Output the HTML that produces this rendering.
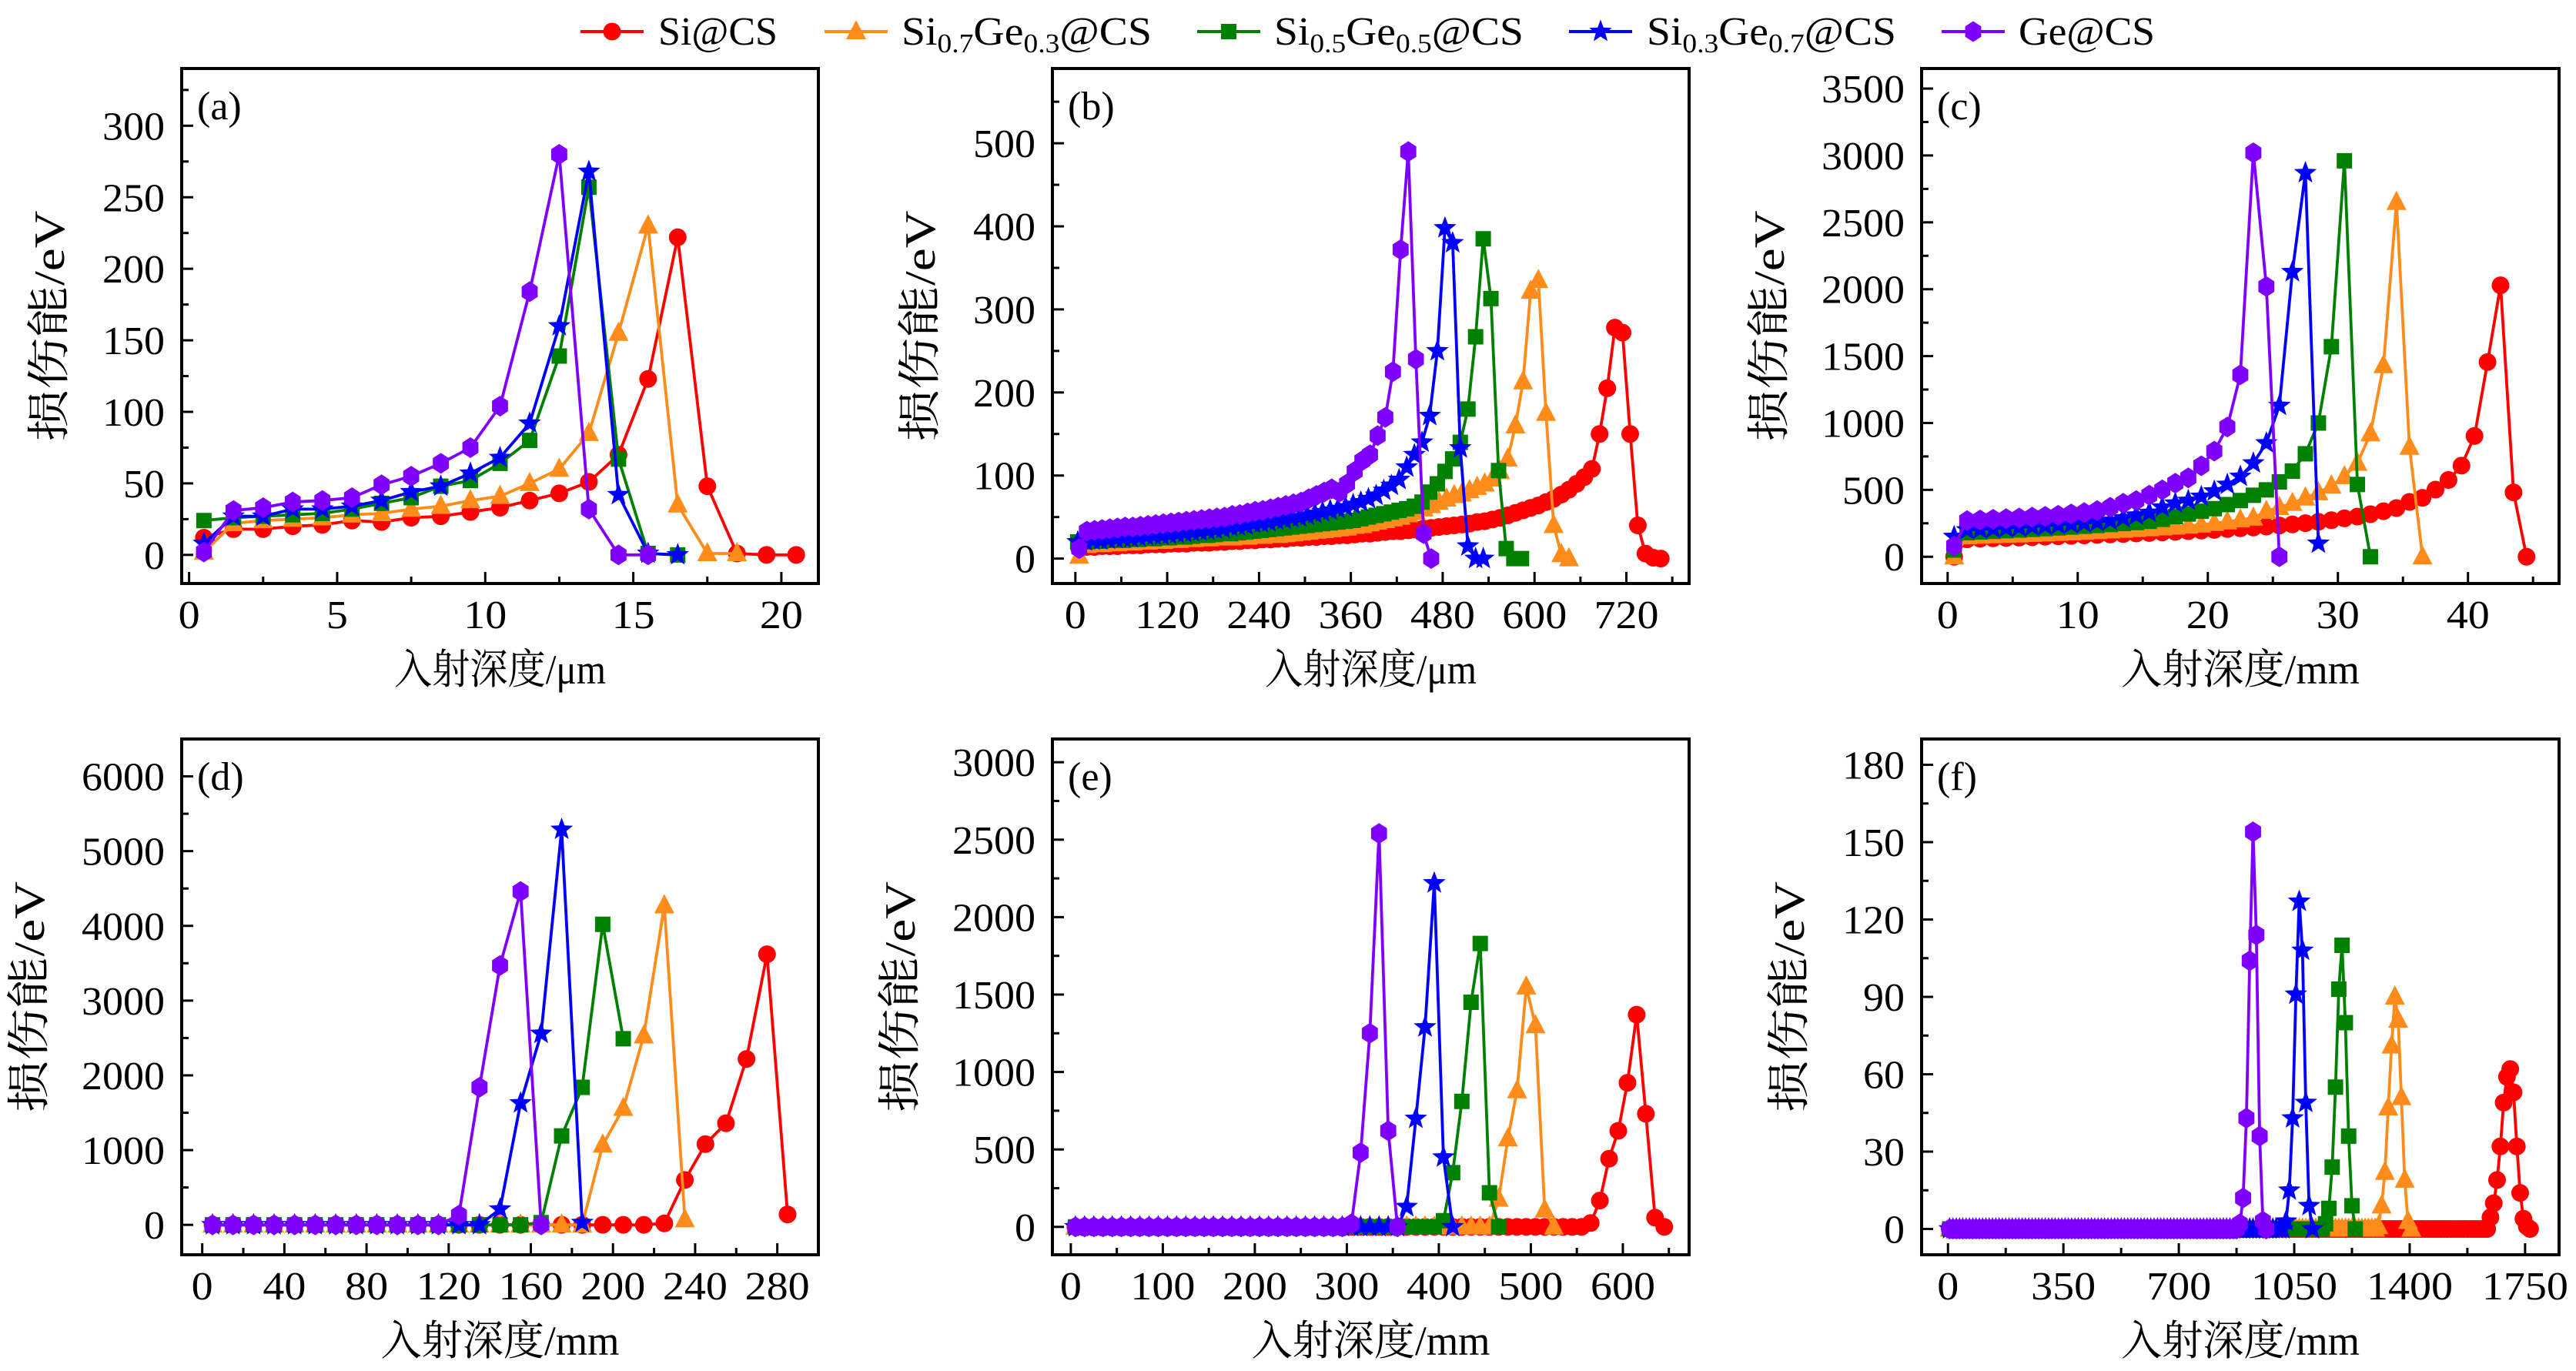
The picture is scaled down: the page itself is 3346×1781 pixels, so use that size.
<!DOCTYPE html>
<html><head><meta charset="utf-8"><style>
html,body{margin:0;padding:0;background:#fff;}
svg{display:block;}
text{font-family:"Liberation Serif","Noto Serif CJK SC",serif;fill:#000;}
</style></head><body>
<svg id="chart" xmlns="http://www.w3.org/2000/svg" width="3346" height="1781" viewBox="0 0 3346 1781">
<g id="legend"></g>
<g id="panels"></g>
</svg>
<script>
// ---------- DATA ----------
const seriesNames = ["Si@CS","Si0.7Ge0.3@CS","Si0.5Ge0.5@CS","Si0.3Ge0.7@CS","Ge@CS"];
// panel (a): x = 0.5 + i
const aSi   = [12,18,18,20,21,24,23,26,27,30,33,38,43,51,70,123,222,48,1,0,0];
const aSi07 = [2,22,24,25,26,28,29,32,34,38,41,50,60,85,155,230,35,1,1];
const aSi05 = [24,26,27,28,29,32,36,40,48,52,64,80,139,257,67,1,0];
const aSi03 = [8,27,27,32,32,34,38,44,48,57,68,92,160,268,42,1,0];
const aGe   = [2,31,33,37,38,40,49,55,64,75,104,184,280,32,0,0];
// panel (b)
const bSi   = [13,14,14,15,15,15,16,16,16,17,17,17,18,18,18,19,19,19,20,20,21,21,22,22,23,23,24,24,25,25,26,26,27,27,28,28,29,30,30,31,32,33,33,34,35,36,37,38,39,40,41,42,44,45,47,49,52,55,58,61,64,68,72,77,83,90,98,108,150,205,278,272,150,40,6,1,0];
const bSi07 = [3,16,17,17,18,18,19,19,20,20,21,21,22,22,23,23,24,24,25,25,25,26,26,27,27,28,28,29,30,31,32,33,34,35,36,37,39,40,42,44,46,48,50,53,56,60,64,68,72,76,78,82,86,90,96,105,120,160,213,322,335,175,40,5,0];
const bSi05 = [20,20,21,21,22,22,22,23,23,24,24,25,25,26,26,27,28,28,29,30,30,31,32,33,34,35,36,37,38,39,40,41,42,43,44,45,46,48,50,52,54,56,58,60,63,68,80,90,105,120,140,180,267,385,313,106,12,0,0];
const bSi03 = [20,21,22,22,23,24,25,25,26,27,28,28,29,30,31,32,33,34,35,36,38,39,40,42,43,44,46,47,49,50,52,54,56,58,60,62,65,68,72,76,82,88,95,110,125,140,172,250,398,380,133,15,0,0];
const bGe   = [12,33,34,35,36,37,38,38,39,40,41,42,43,44,45,46,47,48,49,50,52,53,55,57,58,60,62,64,66,68,72,76,80,84,80,90,105,118,125,148,170,225,372,490,240,30,0];
// panel (c): x = 0.5 + i
const cSi   = [0,130,135,138,140,143,146,150,153,156,160,163,167,170,174,178,182,186,191,196,201,207,213,219,226,234,242,251,261,273,287,300,318,340,364,410,440,502,574,681,903,1455,2029,481,0];
const cSi07 = [0,150,155,158,161,164,168,172,176,180,184,189,194,199,205,211,217,223,230,238,250,262,276,290,340,370,400,440,480,530,600,700,920,1430,2650,820,0];
const cSi05 = [50,180,185,190,195,200,205,210,216,222,228,234,241,248,256,265,280,300,320,340,360,390,420,460,500,560,640,770,1000,1570,2960,540,0];
const cSi03 = [150,200,205,210,215,220,226,232,238,245,252,260,270,290,310,330,370,400,420,450,490,540,600,700,850,1130,2130,2870,100];
const cGe   = [80,270,275,280,285,290,296,302,310,320,330,345,370,400,420,460,500,550,590,680,790,970,1360,3020,2020,0];
// panel (d): x = 5 + 10 i
const dSi   = [0,0,0,0,0,0,0,0,0,0,0,0,0,0,0,0,0,0,0,0,0,0,20,600,1080,1360,2220,3620,140];
const dSi07 = [0,0,0,0,0,0,0,0,0,0,0,0,0,0,0,0,0,0,0,1070,1560,2530,4270,70];
const dSi05 = [0,0,0,0,0,0,0,0,0,0,0,0,0,0,0,0,30,1190,1840,4020,2490];
const dSi03 = [0,0,0,0,0,0,0,0,0,0,0,0,0,0,210,1630,2560,5290,30];
const dGe   = [0,0,0,0,0,0,0,0,0,0,0,0,130,1840,3470,4460,0];
// panel (e): x = 5 + 10 i
const eSi   = "0,0,0,0,0,0,0,0,0,0,0,0,0,0,0,0,0,0,0,0,0,0,0,0,0,0,0,0,0,0,0,0,0,0,0,0,0,0,0,0,0,0,0,0,0,0,0,0,0,0,0,0,0,0,0,0,25,170,440,620,930,1370,730,60,0".split(",").map(Number);
const eSi07 = "0,0,0,0,0,0,0,0,0,0,0,0,0,0,0,0,0,0,0,0,0,0,0,0,0,0,0,0,0,0,0,0,0,0,0,0,0,0,0,0,0,0,0,0,0,0,180,570,880,1550,1300,110,0".split(",").map(Number);
const eSi05 = "0,0,0,0,0,0,0,0,0,0,0,0,0,0,0,0,0,0,0,0,0,0,0,0,0,0,0,0,0,0,0,0,0,0,0,0,0,0,0,0,40,350,810,1450,1830,220,0".split(",").map(Number);
const eSi03 = "0,0,0,0,0,0,0,0,0,0,0,0,0,0,0,0,0,0,0,0,0,0,0,0,0,0,0,0,0,0,0,0,0,0,0,0,130,700,1290,2220,450,0".split(",").map(Number);
const eGe   = "0,0,0,0,0,0,0,0,0,0,0,0,0,0,0,0,0,0,0,0,0,0,0,0,0,0,0,0,0,0,20,480,1250,2540,620,0".split(",").map(Number);
// panel (f): x = 5 + 10 i
const fSi   = ("0,".repeat(164) + "4.5,10,19,32,49,59,62,53,32,14,4,1,0").split(",").map(Number);
const fSi07 = ("0,".repeat(130) + "1,9,22,47,71,90,81,51,19,3,0").split(",").map(Number);
const fSi05 = ("0,".repeat(114) + "2,8,24,55,93,110,80,36,9,0").split(",").map(Number);
const fSi03 = ("0,".repeat(102) + "3,15,43,91,127,108,49,9,0").split(",").map(Number);
const fGe   = ("0,".repeat(88) + "2,12,43,104,154,114,36,3,0").split(",").map(Number);

// ---------- LAYOUT ----------
const colors = ["#ff0000","#ff8c1a","#008000","#0000ff","#8000ff"];
const shapes = ["circle","triangle","square","star","hexagon"];
const cols = [[236,1063],[1367,2194],[2496,3324]];
const rows = [[89,758],[960,1630]];
const panels = [
 {id:"a",c:0,r:0,x0:-0.25,x1:21.25,y0:-20,y1:340,xs:0.5,dx:1,xMaj:5,xMin:2.5,xT:[0,20],yMaj:50,yMin:25,yT:[0,300],unit:"μm",data:[aSi,aSi07,aSi05,aSi03,aGe]},
 {id:"b",c:1,r:0,x0:-30,x1:802,y0:-30,y1:590,xs:5,dx:10,xMaj:120,xMin:60,xT:[0,720],yMaj:100,yMin:50,yT:[0,500],unit:"μm",data:[bSi,bSi07,bSi05,bSi03,bGe],xOff:[5,5,3,3,5]},
 {id:"c",c:2,r:0,x0:-2,x1:47,y0:-200,y1:3650,xs:0.5,dx:1,xMaj:10,xMin:5,xT:[0,40],yMaj:500,yMin:250,yT:[0,3500],unit:"mm",data:[cSi,cSi07,cSi05,cSi03,cGe]},
 {id:"d",c:0,r:1,x0:-10,x1:300,y0:-400,y1:6500,xs:5,dx:10,xMaj:40,xMin:20,xT:[0,280],yMaj:1000,yMin:500,yT:[0,6000],unit:"mm",data:[dSi,dSi07,dSi05,dSi03,dGe]},
 {id:"e",c:1,r:1,x0:-20,x1:672,y0:-180,y1:3150,xs:5,dx:10,xMaj:100,xMin:50,xT:[0,600],yMaj:500,yMin:250,yT:[0,3000],unit:"mm",data:[eSi,eSi07,eSi05,eSi03,eGe]},
 {id:"f",c:2,r:1,x0:-80,x1:1853,y0:-10,y1:190,xs:5,dx:10,xMaj:350,xMin:175,xT:[0,1750],yMaj:30,yMin:15,yT:[0,180],unit:"mm",data:[fSi,fSi07,fSi05,fSi03,fGe]}
];
const NS="http://www.w3.org/2000/svg";
function mk(tag,attrs,parent){const e=document.createElementNS(NS,tag);for(const k in attrs)e.setAttribute(k,attrs[k]);if(parent)parent.appendChild(e);return e;}
function markerPath(shape,x,y){
  if(shape==="circle") return `M${x-11.5},${y}a11.5,11.5 0 1,0 23,0a11.5,11.5 0 1,0 -23,0Z`;
  if(shape==="square") return `M${x-10},${y-10}h20v20h-20Z`;
  if(shape==="triangle") return `M${x},${y-15}L${x+13},${y+10}L${x-13},${y+10}Z`;
  if(shape==="hexagon"){let p="";for(let k=0;k<6;k++){const a=Math.PI/2+k*Math.PI/3;p+=(k?"L":"M")+(x+12*Math.cos(a)).toFixed(1)+","+(y-13.5*Math.sin(a)).toFixed(1);}return p+"Z";}
  let p="";for(let k=0;k<10;k++){const a=Math.PI/2+k*Math.PI/5;const rr=k%2?6.5:15.5;p+=(k?"L":"M")+(x+rr*Math.cos(a)).toFixed(1)+","+(y-rr*Math.sin(a)).toFixed(1);}return p+"Z";
}
const root=document.getElementById("panels");
panels.forEach(P=>{
  const L=cols[P.c][0],R=cols[P.c][1],T=rows[P.r][0],B=rows[P.r][1];
  const sx=v=>L+(v-P.x0)/(P.x1-P.x0)*(R-L);
  const sy=v=>B-(v-P.y0)/(P.y1-P.y0)*(B-T);
  const g=mk("g",{},root);
  
  
  const clip=mk("clipPath",{id:"clip"+P.id},g);mk("rect",{x:L,y:T,width:R-L,height:B-T},clip);
  const tk=mk("g",{stroke:"#000","stroke-width":3},g);
  
  
  for(let v=Math.ceil(P.x0/P.xMin)*P.xMin;v<=P.x1+1e-9;v+=P.xMin){
    const maj=Math.abs(v/P.xMaj-Math.round(v/P.xMaj))<1e-6;const X=sx(v);
    mk("line",{x1:X,x2:X,y1:B,y2:B-(maj?15:9)},tk);
    if(maj&&v>=P.xT[0]-1e-9&&v<=P.xT[1]+1e-9){const s=String(Math.round(v*100)/100);const t=mk("text",{x:X,y:B+58,"text-anchor":"middle","font-size":52,textLength:s.length*28,lengthAdjust:"spacingAndGlyphs"},g);t.textContent=s;
      
      }
  }
  for(let v=Math.ceil(P.y0/P.yMin)*P.yMin;v<=P.y1+1e-9;v+=P.yMin){
    const maj=Math.abs(v/P.yMaj-Math.round(v/P.yMaj))<1e-6;const Y=sy(v);
    mk("line",{x1:L,x2:L+(maj?15:9),y1:Y,y2:Y},tk);
    if(maj&&v>=P.yT[0]&&v<=P.yT[1]){const s=String(v);const t=mk("text",{x:L-22,y:Y+18,"text-anchor":"end","font-size":52,textLength:s.length*27,lengthAdjust:"spacingAndGlyphs"},g);t.textContent=s;
      
      }
  }
  const sg=mk("g",{"clip-path":`url(#clip${P.id})`},g);
  P.data.forEach((ys,si)=>{
    const off=P.xOff?P.xOff[si]:P.xs;
    const pts=ys.map((v,i)=>[sx(off+i*P.dx),sy(v)]);
    const s=mk("g",{},sg);
    
    
    mk("polyline",{points:pts.map(p=>p[0].toFixed(1)+","+p[1].toFixed(1)).join(" "),fill:"none",stroke:colors[si],"stroke-width":3.8,"stroke-linejoin":"round"},s);
    mk("path",{d:pts.map(p=>markerPath(shapes[si],p[0],p[1])).join(""),fill:colors[si]},s);
  });
  const fr=mk("rect",{x:L,y:T,width:R-L,height:B-T,fill:"none",stroke:"#000","stroke-width":4},g);
  
  
  const lab=mk("text",{x:L+20,y:T+66,"font-size":52},g);lab.textContent="("+P.id+")";
  
  
  const xt=mk("text",{x:(L+R)/2,y:B+130,"text-anchor":"middle","font-size":54,textLength:P.unit==="mm"?310:275,lengthAdjust:"spacingAndGlyphs"},g);xt.textContent="入射深度/"+P.unit;
  
  
  const off=P.yT[1]>=1000?198:172;const cx=L-off,cy=(T+B)/2;
  const yt=mk("text",{x:cx,y:cy+19,"text-anchor":"middle","font-size":56,textLength:300,lengthAdjust:"spacingAndGlyphs",transform:`rotate(-90 ${cx} ${cy})`},g);yt.textContent="损伤能/eV";
  
  
});
const leg=document.getElementById("legend");
const legItems=[[754,855,155,"Si","",""],[1071,1171,325,"Si","0.7","0.3"],[1555,1655,324,"Si","0.5","0.5"],[2038,2139,324,"Si","0.3","0.7"],[2522,2622,177,"Ge","",""]];
legItems.forEach((it,i)=>{
  const g=mk("g",{},leg);
  
  
  mk("line",{x1:it[0],x2:it[0]+82,y1:41,y2:41,stroke:colors[i],"stroke-width":4},g);
  mk("path",{d:markerPath(shapes[i],it[0]+41,41),fill:colors[i]},g);
  const t=mk("text",{x:it[1],y:58,"font-size":52,textLength:it[2],lengthAdjust:"spacingAndGlyphs"},g);
  if(it[4]){t.innerHTML=`Si<tspan font-size="35" dy="10">${it[4]}</tspan><tspan dy="-10">Ge</tspan><tspan font-size="35" dy="10">${it[5]}</tspan><tspan dy="-10">@CS</tspan>`;}
  else t.textContent=it[3]+"@CS";
});
</script>
</body></html>
